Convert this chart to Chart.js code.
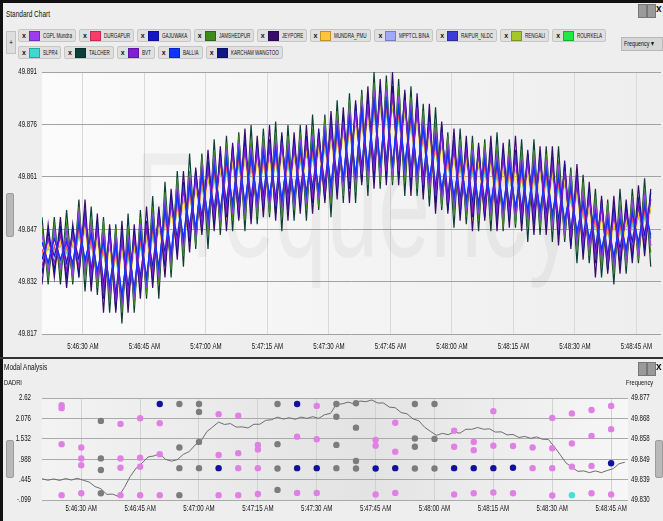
<!DOCTYPE html>
<html>
<head>
<meta charset="utf-8">
<script src="https://cdn.jsdelivr.net/npm/chart.js@4.4.1/dist/chart.umd.min.js"></script>
<style>
  body { margin: 0; background: #efefef; font-family: "Liberation Sans", Arial, sans-serif; color: #111; }
  #wrap { position: relative; width: 663px; height: 521px; overflow: hidden; background: #eeeeee; }
  .abs { position: absolute; }
  .nx { display: inline-block; transform: scaleX(0.72); transform-origin: 0 50%; white-space: nowrap; }
  .title { font-size: 9px; color: #111; }
  .chip-row { position: absolute; left: 18px; display: flex; gap: 3px; }
  .chip { height: 11px; background: #e0e0e0; border: 1px solid #c6c6c6; border-radius: 2px; display: flex; align-items: center; padding: 0 3px; font-size: 7px; white-space: nowrap; }
  .chip b { font-size: 7px; margin-right: 3px; }
  .chip i { width: 11px; height: 10px; margin-right: 3px; display: inline-block; box-sizing: border-box; border: 1px solid rgba(0,0,0,0.25); }
  .chip .nx { transform: scaleX(0.65); }
  .icon { position: absolute; width: 7px; height: 12px; background: #9a9a9a; border: 1px solid #777; }
  .grip { position: absolute; width: 6px; background: #b9b9b9; border: 1px solid #9c9c9c; border-radius: 2px; }
  canvas { position: absolute; left: 0; }
</style>
</head>
<body>
<div id="wrap">
  <div class="abs" style="left:0;top:0;width:663px;height:3px;background:#111"></div>
  <div class="abs" style="left:0;top:0;width:3px;height:521px;background:#111"></div>
  <div class="abs title" style="left:6px;top:9px"><span class="nx">Standard Chart</span></div>
  <div class="icon" style="left:638px;top:4px"></div>
  <div class="icon" style="left:647px;top:4px"></div>
  <div class="abs" style="left:656px;top:3px;font-size:10px;font-weight:bold">x</div>
  <div class="abs" style="left:6px;top:31px;width:8px;height:21px;background:#dedede;border:1px solid #c2c2c2;font-size:7px;text-align:center;line-height:21px">+</div>
  <div class="chip-row" id="chips1" style="top:29px"></div>
  <div class="chip-row" id="chips2" style="top:46px"></div>
  <div class="abs" style="left:621px;top:37px;width:38px;height:12px;background:#d6d6d6;border:1px solid #b8b8b8;font-size:7.5px;line-height:12px;padding-left:2px;overflow:hidden"><span class="nx">Frequency &#9662;</span></div>
  <div class="grip" style="left:6px;top:193px;height:42px"></div>

  <canvas id="freq-chart" width="663" height="298" style="top:60px"></canvas>

  <div class="abs" style="left:0;top:357px;width:663px;height:2px;background:#333"></div>
  <div class="abs title" style="left:4px;top:362px"><span class="nx">Modal Analysis</span></div>
  <div class="abs title" style="left:4px;top:378px;font-size:8px"><span class="nx">DADRI</span></div>
  <div class="abs title" style="left:626px;top:378px;font-size:8px"><span class="nx">Frequency</span></div>
  <div class="icon" style="left:638px;top:362px"></div>
  <div class="icon" style="left:647px;top:362px"></div>
  <div class="abs" style="left:656px;top:361px;font-size:10px;font-weight:bold">x</div>
  <div class="grip" style="left:6px;top:440px;height:36px"></div>
  <div class="grip" style="left:655px;top:440px;height:36px"></div>

  <canvas id="modal-chart" width="663" height="133" style="top:388px"></canvas>
</div>

<script>
// ---- top chart: frequency of each station, one sample every 1.5 s from 5:46:20 AM ----
const TIME_STEP = 1.5;
const X_TICK_SECONDS = [10, 25, 40, 55, 70, 85, 100, 115, 130, 145];
const X_TICK_LABELS = ['5:46:30 AM','5:46:45 AM','5:47:00 AM','5:47:15 AM','5:47:30 AM','5:47:45 AM','5:48:00 AM','5:48:15 AM','5:48:30 AM','5:48:45 AM'];
const FREQ_TICKS = [49.817, 49.8318, 49.8466, 49.8614, 49.8762, 49.891];
const FREQ_TICK_LABELS = ['49.817','49.832','49.847','49.861','49.876','49.891'];

const SERIES_NAMES = ['CGPL Mundra','DURGAPUR','GAJUWAKA','JAMSHEDPUR','JEYPORE','MUNDRA_PMU','MPPTCL BINA','RAIPUR_NLDC','RENGALI','ROURKELA','SLPR4','TALCHER','BVT','BALLIA','KARCHAM WANGTOO'];
const SERIES_COLORS = ['#9d3cf2','#ff3b6b','#1414c8','#3d8a1e','#3b0b6b','#ffc53a','#a0a8ff','#3c3cd6','#a6c72a','#22e845','#3fd8d0','#0d3f38','#7e1fd2','#1232ff','#0f1882'];
// higher number is drawn first (underneath)
const SERIES_DRAW_ORDER = [6, 10, 3, 8, 7, 11, 12, 4, 13, 14, 15, 9, 2, 1, 5];

const CGPL_MUNDRA = [49.845,49.835,49.846,49.836,49.846,49.834,49.851,49.835,49.848,49.832,49.846,49.828,49.845,49.825,49.845,49.827,49.848,49.830,49.851,49.833,49.855,49.837,49.859,49.841,49.862,49.844,49.865,49.847,49.867,49.849,49.869,49.851,49.871,49.851,49.870,49.852,49.871,49.853,49.872,49.852,49.871,49.853,49.872,49.854,49.873,49.855,49.876,49.856,49.878,49.858,49.881,49.859,49.883,49.861,49.886,49.862,49.886,49.862,49.884,49.862,49.882,49.860,49.878,49.858,49.875,49.855,49.871,49.853,49.870,49.852,49.869,49.851,49.869,49.851,49.868,49.850,49.868,49.850,49.867,49.849,49.867,49.849,49.866,49.848,49.864,49.846,49.861,49.843,49.857,49.841,49.854,49.838,49.852,49.836,49.852,49.838,49.854,49.840,49.856,49.842];
const DURGAPUR = [49.841,49.835,49.842,49.836,49.842,49.834,49.847,49.835,49.844,49.832,49.842,49.828,49.841,49.825,49.841,49.827,49.844,49.830,49.847,49.833,49.851,49.837,49.855,49.841,49.858,49.844,49.861,49.847,49.863,49.849,49.865,49.851,49.867,49.851,49.866,49.852,49.867,49.853,49.868,49.852,49.867,49.853,49.868,49.854,49.869,49.855,49.872,49.856,49.874,49.858,49.877,49.859,49.879,49.861,49.882,49.862,49.882,49.862,49.880,49.862,49.878,49.860,49.874,49.858,49.871,49.855,49.867,49.853,49.866,49.852,49.865,49.851,49.865,49.851,49.864,49.850,49.864,49.850,49.863,49.849,49.863,49.849,49.862,49.848,49.860,49.846,49.857,49.843,49.853,49.841,49.850,49.838,49.848,49.836,49.848,49.838,49.850,49.840,49.852,49.842];
const GAJUWAKA = [49.838,49.844,49.839,49.845,49.837,49.845,49.838,49.850,49.835,49.847,49.831,49.845,49.828,49.844,49.830,49.844,49.833,49.847,49.836,49.850,49.840,49.854,49.844,49.858,49.847,49.861,49.850,49.864,49.852,49.866,49.854,49.868,49.854,49.870,49.855,49.869,49.856,49.870,49.855,49.871,49.856,49.870,49.857,49.871,49.858,49.872,49.859,49.875,49.861,49.877,49.862,49.880,49.864,49.882,49.865,49.885,49.865,49.885,49.865,49.883,49.863,49.881,49.861,49.877,49.858,49.874,49.856,49.870,49.855,49.869,49.854,49.868,49.854,49.868,49.853,49.867,49.853,49.867,49.852,49.866,49.852,49.866,49.851,49.865,49.849,49.863,49.846,49.860,49.844,49.856,49.841,49.853,49.839,49.851,49.841,49.851,49.843,49.853,49.845,49.855];
const JAMSHEDPUR = [49.847,49.833,49.848,49.834,49.848,49.832,49.853,49.833,49.850,49.830,49.849,49.826,49.847,49.823,49.847,49.825,49.850,49.828,49.853,49.831,49.857,49.835,49.861,49.839,49.863,49.842,49.867,49.845,49.869,49.847,49.871,49.849,49.873,49.849,49.872,49.850,49.873,49.851,49.874,49.850,49.873,49.852,49.874,49.852,49.875,49.853,49.878,49.854,49.880,49.856,49.883,49.857,49.885,49.859,49.888,49.860,49.888,49.860,49.887,49.860,49.884,49.858,49.880,49.856,49.877,49.853,49.873,49.851,49.872,49.850,49.871,49.849,49.871,49.849,49.870,49.847,49.870,49.848,49.869,49.847,49.869,49.847,49.868,49.846,49.866,49.844,49.863,49.841,49.860,49.839,49.856,49.836,49.854,49.834,49.854,49.836,49.856,49.838,49.858,49.840];
const JEYPORE = [49.831,49.848,49.833,49.850,49.830,49.848,49.833,49.855,49.829,49.851,49.823,49.848,49.823,49.849,49.823,49.848,49.827,49.853,49.830,49.853,49.833,49.858,49.838,49.863,49.840,49.864,49.845,49.869,49.846,49.870,49.846,49.871,49.849,49.875,49.848,49.873,49.850,49.876,49.849,49.874,49.849,49.874,49.851,49.876,49.851,49.875,49.854,49.880,49.855,49.881,49.854,49.883,49.859,49.887,49.858,49.889,49.859,49.891,49.859,49.886,49.856,49.885,49.855,49.882,49.851,49.877,49.851,49.875,49.849,49.873,49.846,49.871,49.849,49.873,49.846,49.871,49.847,49.873,49.846,49.869,49.845,49.870,49.845,49.870,49.842,49.866,49.841,49.865,49.838,49.860,49.833,49.856,49.834,49.856,49.834,49.855,49.837,49.859,49.839,49.858];
const MUNDRA_PMU = [49.834,49.842,49.835,49.843,49.833,49.843,49.834,49.848,49.831,49.845,49.827,49.843,49.824,49.842,49.826,49.842,49.829,49.845,49.832,49.848,49.836,49.852,49.840,49.856,49.843,49.859,49.846,49.862,49.848,49.864,49.850,49.866,49.850,49.868,49.851,49.867,49.852,49.868,49.851,49.869,49.852,49.868,49.853,49.869,49.854,49.870,49.855,49.873,49.857,49.875,49.858,49.878,49.860,49.880,49.861,49.883,49.861,49.883,49.861,49.881,49.859,49.879,49.857,49.875,49.854,49.872,49.852,49.868,49.851,49.867,49.850,49.866,49.850,49.866,49.849,49.865,49.849,49.865,49.848,49.864,49.848,49.864,49.847,49.863,49.845,49.861,49.842,49.858,49.840,49.854,49.837,49.851,49.835,49.849,49.837,49.849,49.839,49.851,49.841,49.853];
const MPPTCL_BINA = [49.839,49.843,49.840,49.844,49.838,49.844,49.839,49.849,49.836,49.846,49.832,49.844,49.829,49.843,49.831,49.843,49.834,49.846,49.837,49.849,49.841,49.853,49.845,49.857,49.848,49.860,49.851,49.863,49.853,49.865,49.855,49.867,49.855,49.869,49.856,49.868,49.857,49.869,49.856,49.870,49.857,49.869,49.858,49.870,49.859,49.871,49.860,49.874,49.862,49.876,49.863,49.879,49.865,49.881,49.866,49.884,49.866,49.884,49.866,49.882,49.864,49.880,49.862,49.876,49.859,49.873,49.857,49.869,49.856,49.868,49.855,49.867,49.855,49.867,49.854,49.866,49.854,49.866,49.853,49.865,49.853,49.865,49.852,49.864,49.850,49.862,49.847,49.859,49.845,49.855,49.842,49.852,49.840,49.850,49.842,49.850,49.844,49.852,49.846,49.854];
const RAIPUR_NLDC = [49.843,49.837,49.844,49.838,49.844,49.836,49.849,49.837,49.846,49.834,49.844,49.830,49.843,49.827,49.843,49.829,49.846,49.832,49.849,49.835,49.853,49.839,49.857,49.843,49.860,49.846,49.863,49.849,49.865,49.851,49.867,49.853,49.869,49.853,49.868,49.854,49.869,49.855,49.870,49.854,49.869,49.855,49.870,49.856,49.871,49.857,49.874,49.858,49.876,49.860,49.879,49.861,49.881,49.863,49.884,49.864,49.884,49.864,49.882,49.864,49.880,49.862,49.876,49.860,49.873,49.857,49.869,49.855,49.868,49.854,49.867,49.853,49.867,49.853,49.866,49.852,49.866,49.852,49.865,49.851,49.865,49.851,49.864,49.850,49.862,49.848,49.859,49.845,49.855,49.843,49.852,49.840,49.850,49.838,49.850,49.840,49.852,49.842,49.854,49.844];
const RENGALI = [49.840,49.836,49.841,49.837,49.841,49.835,49.846,49.836,49.843,49.833,49.841,49.829,49.840,49.826,49.840,49.828,49.843,49.831,49.846,49.834,49.850,49.838,49.854,49.842,49.857,49.845,49.860,49.848,49.862,49.850,49.864,49.852,49.866,49.852,49.865,49.853,49.866,49.854,49.867,49.853,49.866,49.854,49.867,49.855,49.868,49.856,49.871,49.857,49.873,49.859,49.876,49.860,49.878,49.862,49.881,49.863,49.881,49.863,49.879,49.863,49.877,49.861,49.873,49.859,49.870,49.856,49.866,49.854,49.865,49.853,49.864,49.852,49.864,49.852,49.863,49.851,49.863,49.851,49.862,49.850,49.862,49.850,49.861,49.849,49.859,49.847,49.856,49.844,49.852,49.842,49.849,49.839,49.847,49.837,49.847,49.839,49.849,49.841,49.851,49.843];
const ROURKELA = [49.839,49.841,49.840,49.842,49.838,49.842,49.839,49.847,49.836,49.844,49.832,49.842,49.829,49.841,49.831,49.841,49.834,49.844,49.837,49.847,49.841,49.851,49.845,49.855,49.848,49.858,49.851,49.861,49.853,49.863,49.855,49.865,49.855,49.867,49.856,49.866,49.857,49.867,49.856,49.868,49.857,49.867,49.858,49.868,49.859,49.869,49.860,49.872,49.862,49.874,49.863,49.877,49.865,49.879,49.866,49.882,49.866,49.882,49.866,49.880,49.864,49.878,49.862,49.874,49.859,49.871,49.857,49.867,49.856,49.866,49.855,49.865,49.855,49.865,49.854,49.864,49.854,49.864,49.853,49.863,49.853,49.863,49.852,49.862,49.850,49.860,49.847,49.857,49.845,49.853,49.842,49.850,49.840,49.848,49.842,49.848,49.844,49.850,49.846,49.852];
const SLPR4 = [49.839,49.837,49.840,49.838,49.840,49.836,49.845,49.837,49.842,49.834,49.840,49.830,49.839,49.827,49.839,49.829,49.842,49.832,49.845,49.835,49.849,49.839,49.853,49.843,49.856,49.846,49.859,49.849,49.861,49.851,49.863,49.853,49.865,49.853,49.864,49.854,49.865,49.855,49.866,49.854,49.865,49.855,49.866,49.856,49.867,49.857,49.870,49.858,49.872,49.860,49.875,49.861,49.877,49.863,49.880,49.864,49.880,49.864,49.878,49.864,49.876,49.862,49.872,49.860,49.869,49.857,49.865,49.855,49.864,49.854,49.863,49.853,49.863,49.853,49.862,49.852,49.862,49.852,49.861,49.851,49.861,49.851,49.860,49.850,49.858,49.848,49.855,49.845,49.851,49.843,49.848,49.840,49.846,49.838,49.846,49.840,49.848,49.842,49.850,49.844];
const TALCHER = [49.850,49.831,49.850,49.831,49.852,49.831,49.855,49.829,49.853,49.828,49.850,49.823,49.848,49.820,49.851,49.823,49.852,49.827,49.856,49.827,49.860,49.833,49.863,49.836,49.868,49.841,49.868,49.841,49.872,49.845,49.873,49.846,49.874,49.846,49.876,49.848,49.875,49.850,49.877,49.846,49.876,49.849,49.876,49.849,49.879,49.852,49.879,49.850,49.883,49.854,49.885,49.854,49.886,49.856,49.891,49.858,49.890,49.859,49.889,49.856,49.887,49.856,49.882,49.853,49.881,49.852,49.874,49.847,49.875,49.848,49.873,49.846,49.872,49.846,49.874,49.846,49.872,49.847,49.872,49.843,49.872,49.845,49.870,49.843,49.870,49.843,49.864,49.837,49.862,49.837,49.858,49.833,49.855,49.831,49.858,49.834,49.858,49.837,49.861,49.836];
const BVT = [49.836,49.844,49.837,49.845,49.835,49.845,49.836,49.850,49.833,49.847,49.829,49.845,49.826,49.844,49.828,49.844,49.831,49.847,49.834,49.850,49.838,49.854,49.842,49.858,49.845,49.861,49.848,49.864,49.850,49.866,49.852,49.868,49.852,49.870,49.853,49.869,49.854,49.870,49.853,49.871,49.854,49.870,49.855,49.871,49.856,49.872,49.857,49.875,49.859,49.877,49.860,49.880,49.862,49.882,49.863,49.885,49.863,49.885,49.863,49.883,49.861,49.881,49.859,49.877,49.856,49.874,49.854,49.870,49.853,49.869,49.852,49.868,49.852,49.868,49.851,49.867,49.851,49.867,49.850,49.866,49.850,49.866,49.849,49.865,49.847,49.863,49.844,49.860,49.842,49.856,49.839,49.853,49.837,49.851,49.839,49.851,49.841,49.853,49.843,49.855];
const BALLIA = [49.843,49.837,49.844,49.838,49.843,49.837,49.848,49.838,49.845,49.835,49.843,49.831,49.842,49.828,49.842,49.830,49.845,49.833,49.848,49.836,49.852,49.840,49.856,49.844,49.859,49.847,49.862,49.850,49.864,49.852,49.866,49.854,49.868,49.854,49.867,49.855,49.868,49.856,49.869,49.855,49.868,49.856,49.869,49.857,49.870,49.858,49.873,49.859,49.875,49.861,49.878,49.862,49.880,49.864,49.883,49.865,49.883,49.865,49.881,49.865,49.879,49.863,49.875,49.861,49.872,49.858,49.868,49.856,49.867,49.855,49.866,49.854,49.866,49.854,49.865,49.853,49.865,49.853,49.864,49.852,49.864,49.852,49.863,49.851,49.861,49.849,49.858,49.846,49.854,49.844,49.851,49.841,49.849,49.839,49.849,49.841,49.851,49.843,49.853,49.845];
const KARCHAM_WANGTOO = [49.834,49.846,49.835,49.847,49.833,49.847,49.834,49.852,49.831,49.849,49.827,49.847,49.824,49.846,49.826,49.846,49.829,49.849,49.832,49.852,49.836,49.856,49.840,49.860,49.843,49.863,49.846,49.866,49.848,49.868,49.850,49.870,49.850,49.872,49.851,49.871,49.852,49.872,49.851,49.873,49.852,49.872,49.853,49.873,49.854,49.874,49.855,49.877,49.857,49.879,49.858,49.882,49.860,49.884,49.861,49.887,49.861,49.887,49.861,49.885,49.859,49.883,49.857,49.879,49.854,49.876,49.852,49.872,49.851,49.871,49.850,49.870,49.850,49.870,49.849,49.869,49.849,49.869,49.848,49.868,49.848,49.868,49.847,49.867,49.845,49.865,49.842,49.862,49.840,49.858,49.837,49.855,49.835,49.853,49.837,49.853,49.839,49.855,49.841,49.857];

const SERIES_VALUES = [CGPL_MUNDRA, DURGAPUR, GAJUWAKA, JAMSHEDPUR, JEYPORE, MUNDRA_PMU, MPPTCL_BINA, RAIPUR_NLDC, RENGALI, ROURKELA, SLPR4, TALCHER, BVT, BALLIA, KARCHAM_WANGTOO];

// ---- bottom chart: DADRI modes (left axis) and frequency (right axis) ----
const MODE_TICKS = [-0.099, 0.4448, 0.9886, 1.5324, 2.0762, 2.62];
const MODE_TICK_LABELS = ['-.099', '.445', '.988', '1.532', '2.076', '2.62'];
const DADRI_FREQ_TICKS = [49.830, 49.8394, 49.8488, 49.8582, 49.8676, 49.877];
const DADRI_FREQ_TICK_LABELS = ['49.830', '49.839', '49.849', '49.858', '49.868', '49.877'];

const DADRI_FREQ = [49.8398,49.8391,49.8397,49.8390,49.8399,49.8392,49.8400,49.8391,49.8383,49.8362,49.8352,49.8326,49.8327,49.8316,49.8358,49.8409,49.8447,49.8470,49.8498,49.8503,49.8513,49.8487,49.8479,49.8486,49.8510,49.8523,49.8553,49.8572,49.8615,49.8637,49.8659,49.8648,49.8652,49.8636,49.8637,49.8632,49.8649,49.8649,49.8667,49.8670,49.8682,49.8673,49.8679,49.8672,49.8682,49.8676,49.8684,49.8676,49.8693,49.8699,49.8741,49.8743,49.8751,49.8743,49.8756,49.8753,49.8761,49.8747,49.8747,49.8728,49.8725,49.8703,49.8697,49.8674,49.8665,49.8635,49.8616,49.8598,49.8607,49.8601,49.8613,49.8608,49.8626,49.8626,49.8634,49.8626,49.8628,49.8613,49.8614,49.8600,49.8602,49.8588,49.8593,49.8584,49.8591,49.8580,49.8579,49.8546,49.8509,49.8471,49.8451,49.8432,49.8434,49.8426,49.8434,49.8426,49.8436,49.8444,49.8467,49.8474];

// [seconds after 5:46:20 AM, mode value]
const PINK_MODES = [[5,2.43],[5,2.35],[5,1.39],[5,0.03],[10,1.30],[10,1.01],[10,0.83],[10,0.08],[20,1.93],[20,1.01],[20,0.76],[20,0.03],[25,2.08],[25,1.03],[25,0.79],[25,0.03],[30,1.95],[30,1.12],[30,0.03],[45,2.19],[45,1.10],[45,0.03],[50,2.15],[50,1.15],[50,0.75],[50,0.03],[55,1.37],[55,1.25],[55,0.75],[55,0.06],[65,1.59],[65,0.09],[70,2.41],[70,1.52],[70,0.09],[85,1.50],[85,1.35],[85,0.05],[90,1.96],[90,1.19],[90,0.09],[105,1.75],[105,1.32],[105,0.05],[110,1.45],[110,1.23],[110,0.08],[115,2.27],[115,1.35],[115,0.10],[120,1.34],[120,0.08],[125,1.30],[125,0.75],[130,2.09],[130,1.28],[130,0.75],[130,0.02],[135,2.21],[135,1.41],[135,0.79],[140,2.30],[140,1.61],[140,0.81],[140,0.08],[145,2.41],[145,1.79],[145,0.05]];
const GREY_MODES = [[15,2.01],[15,1.01],[15,0.70],[15,0.08],[35,2.46],[35,1.30],[35,0.75],[35,0.03],[40,2.46],[40,2.25],[40,1.45],[40,0.75],[60,2.46],[60,1.39],[60,0.74],[60,0.17],[75,2.46],[75,2.12],[75,1.37],[75,0.75],[80,2.48],[80,1.83],[80,0.94],[80,0.74],[95,2.46],[95,1.54],[95,1.32],[95,0.74],[100,2.46],[100,1.53],[100,0.74]];
const NAVY_MODES = [[30,2.46],[45,0.75],[65,2.46],[65,0.75],[70,0.75],[85,0.74],[90,0.75],[105,0.75],[110,0.75],[115,0.75],[120,0.76],[145,0.88]];
const CYAN_MODES = [[135,0.03]];

const TICK_FONT = '8.5px "Liberation Sans", Arial, sans-serif';
const TEXT_SQUEEZE = 0.72;

function toPoints(values) { return values.map((v, i) => ({ x: i * TIME_STEP, y: v })); }
function pairsToPoints(pairs) { return pairs.map(p => ({ x: p[0], y: p[1] })); }
function fixedTicks(values) { return axis => { axis.ticks = values.map(v => ({ value: v })); }; }

// chip legend, same look as the app's series bar
SERIES_NAMES.forEach((name, i) => {
  const chip = document.createElement('div');
  chip.className = 'chip';
  chip.innerHTML = `<b>x</b><i style="background:${SERIES_COLORS[i]}"></i><span class="nx">${name}</span>`;
  document.getElementById(i < 10 ? 'chips1' : 'chips2').appendChild(chip);
  const label = chip.querySelector('span');
  label.style.width = Math.round(label.offsetWidth * 0.65) + 'px';
});

const plotBackground = {
  id: 'plotBackground',
  beforeDraw(chart, args, opts) {
    const { ctx, chartArea: a } = chart;
    const g = ctx.createLinearGradient(a.left, 0, a.right, 0);
    opts.stops.forEach(s => g.addColorStop(s[0], s[1]));
    ctx.save();
    ctx.fillStyle = g;
    ctx.fillRect(a.left, a.top, a.right - a.left, a.bottom - a.top);
    ctx.restore();
  }
};

const watermark = {
  id: 'watermark',
  beforeDatasetsDraw(chart, args, opts) {
    if (!opts.text) return;
    const { ctx, chartArea: a } = chart;
    ctx.save();
    ctx.font = '150px "Liberation Sans", Arial, sans-serif';
    ctx.fillStyle = 'rgba(0,0,0,0.045)';
    ctx.textAlign = 'center';
    ctx.fillText(opts.text, a.left + 313, a.top + 185, 440);
    ctx.restore();
  }
};

// tick labels in the app are narrow; draw them squeezed next to the axes
const narrowTicks = {
  id: 'narrowTicks',
  afterDraw(chart, args, opts) {
    const ctx = chart.ctx;
    ctx.save();
    ctx.font = TICK_FONT;
    ctx.fillStyle = '#111';
    opts.axes.forEach(ax => {
      const scale = chart.scales[ax.id];
      ax.values.forEach((v, i) => {
        const p = scale.getPixelForValue(v);
        let x, y;
        if (ax.side === 'bottom') { x = p; y = scale.top + ax.gap; ctx.textAlign = 'center'; ctx.textBaseline = 'top'; }
        else if (ax.side === 'left') { x = scale.right - ax.gap; y = p; ctx.textAlign = 'right'; ctx.textBaseline = 'middle'; }
        else { x = scale.left + ax.gap; y = p; ctx.textAlign = 'left'; ctx.textBaseline = 'middle'; }
        ctx.save();
        ctx.translate(x, y);
        ctx.scale(TEXT_SQUEEZE, 1);
        ctx.fillText(ax.labels[i], 0, 0);
        ctx.restore();
      });
    });
    ctx.restore();
  }
};

new Chart(document.getElementById('freq-chart'), {
  type: 'line',
  data: {
    datasets: SERIES_NAMES.map((name, i) => ({
      label: name,
      data: toPoints(SERIES_VALUES[i]),
      borderColor: SERIES_COLORS[i],
      borderWidth: 1.2,
      pointRadius: 0,
      tension: 0,
      order: SERIES_DRAW_ORDER[i]
    }))
  },
  options: {
    responsive: false,
    animation: false,
    events: [],
    layout: { padding: { top: 12, right: 2, left: 0, bottom: 0 } },
    plugins: {
      legend: { display: false },
      tooltip: { enabled: false },
      plotBackground: { stops: [[0, '#fbfbfb'], [0.5, '#f4f4f4'], [1, '#eeeeee']] },
      watermark: { text: 'Frequency' },
      narrowTicks: { axes: [
        { id: 'x', side: 'bottom', gap: 8, values: X_TICK_SECONDS, labels: X_TICK_LABELS },
        { id: 'y', side: 'left', gap: 5, values: FREQ_TICKS, labels: FREQ_TICK_LABELS }
      ] }
    },
    scales: {
      x: {
        type: 'linear', min: 0, max: 151,
        afterBuildTicks: fixedTicks(X_TICK_SECONDS),
        afterFit: s => { s.height = 24; },
        ticks: { display: false },
        grid: { color: '#d9d9d9', drawTicks: false },
        border: { display: false }
      },
      y: {
        min: 49.817, max: 49.891,
        afterBuildTicks: fixedTicks(FREQ_TICKS),
        afterFit: s => { s.width = 42; },
        ticks: { display: false },
        grid: { color: '#a2a2a2', drawTicks: false },
        border: { display: false }
      }
    }
  },
  plugins: [plotBackground, watermark, narrowTicks]
});

new Chart(document.getElementById('modal-chart'), {
  type: 'scatter',
  data: {
    datasets: [
      { type: 'line', label: 'Frequency', data: toPoints(DADRI_FREQ), yAxisID: 'yR', borderColor: '#6d6d6d', borderWidth: 1, pointRadius: 0, tension: 0, order: 5 },
      { label: 'Mode 1', data: pairsToPoints(PINK_MODES), yAxisID: 'yL', backgroundColor: '#e07fe4', borderWidth: 0, pointRadius: 3.2, order: 4 },
      { label: 'Mode 2', data: pairsToPoints(GREY_MODES), yAxisID: 'yL', backgroundColor: '#7c7c7c', borderWidth: 0, pointRadius: 3.2, order: 3 },
      { label: 'Mode 3', data: pairsToPoints(NAVY_MODES), yAxisID: 'yL', backgroundColor: '#11119c', borderWidth: 0, pointRadius: 3.2, order: 2 },
      { label: 'Mode 4', data: pairsToPoints(CYAN_MODES), yAxisID: 'yL', backgroundColor: '#47e0d6', borderWidth: 0, pointRadius: 3.2, order: 1 }
    ]
  },
  options: {
    responsive: false,
    animation: false,
    events: [],
    layout: { padding: { top: 10, right: 0, left: 0, bottom: 7 } },
    plugins: {
      legend: { display: false },
      tooltip: { enabled: false },
      plotBackground: { stops: [[0, '#f3f3f3'], [0.55, '#e3e3e3'], [1, '#f7f7f7']] },
      narrowTicks: { axes: [
        { id: 'x', side: 'bottom', gap: 4, values: X_TICK_SECONDS, labels: X_TICK_LABELS },
        { id: 'yL', side: 'left', gap: 11, values: MODE_TICKS, labels: MODE_TICK_LABELS },
        { id: 'yR', side: 'right', gap: 3, values: DADRI_FREQ_TICKS, labels: DADRI_FREQ_TICK_LABELS }
      ] }
    },
    scales: {
      x: {
        type: 'linear', min: 0, max: 149.3,
        afterBuildTicks: fixedTicks(X_TICK_SECONDS),
        afterFit: s => { s.height = 14; },
        ticks: { display: false },
        grid: { color: '#d2d2d2', drawTicks: false },
        border: { display: false }
      },
      yL: {
        position: 'left', min: -0.099, max: 2.62,
        afterBuildTicks: fixedTicks(MODE_TICKS),
        afterFit: s => { s.width = 42; },
        ticks: { display: false },
        grid: { color: '#aaaaaa', drawTicks: false },
        border: { display: false }
      },
      yR: {
        position: 'right', min: 49.830, max: 49.877,
        afterBuildTicks: fixedTicks(DADRI_FREQ_TICKS),
        afterFit: s => { s.width = 35; },
        ticks: { display: false },
        grid: { display: false },
        border: { display: false }
      }
    }
  },
  plugins: [plotBackground, narrowTicks]
});
</script>
</body>
</html>
